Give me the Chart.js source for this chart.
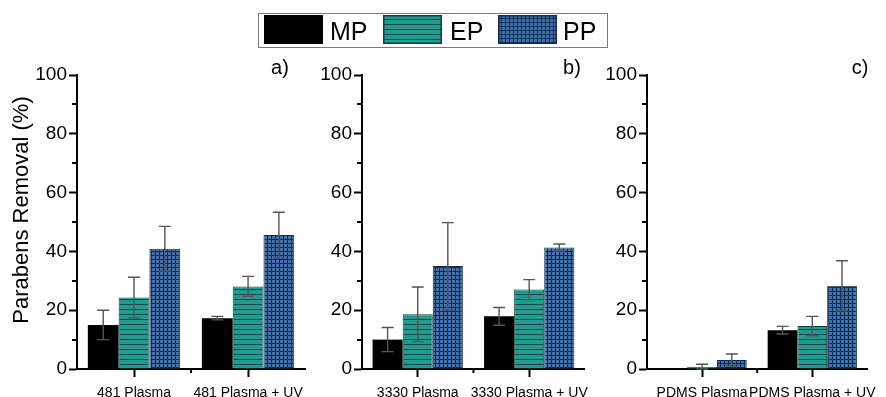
<!DOCTYPE html>
<html>
<head>
<meta charset="utf-8">
<script src="https://cdn.jsdelivr.net/npm/chart.js@4/dist/chart.umd.min.js"></script>
<style>
  html, body { margin: 0; padding: 0; background: #ffffff; }
  #wrap { position: relative; width: 886px; height: 397px; overflow: hidden; font-family: "Liberation Sans", Arial, sans-serif; }
  canvas.panel { position: absolute; top: 0; }
  #legend { position: absolute; left: 258px; top: 13px; width: 350px; height: 35px; border: 1.5px solid #7a7a7a; box-sizing: border-box; }
  #legend canvas { position: absolute; top: 1px; }
  #legend span { position: absolute; top: 2px; font-size: 25px; line-height: 30px; color: #000; }
</style>
</head>
<body>
<div id="wrap">
  <canvas class="panel" id="ca" width="312" height="397" style="left:0px;width:312px;height:397px"></canvas>
  <canvas class="panel" id="cb" width="285" height="397" style="left:312px;width:285px;height:397px"></canvas>
  <canvas class="panel" id="cc" width="289" height="397" style="left:597px;width:289px;height:397px"></canvas>
  <div id="legend">
    <canvas id="lg0" width="59" height="29" style="left:5px"></canvas><span style="left:71px">MP</span>
    <canvas id="lg1" width="59" height="29" style="left:124px"></canvas><span style="left:191px">EP</span>
    <canvas id="lg2" width="59" height="29" style="left:239px"></canvas><span style="left:304px">PP</span>
  </div>
</div>
<script>
// ---------------- DATA ----------------
const seriesNames = ['MP', 'EP', 'PP'];
const panelLabels = ['a)', 'b)', 'c)'];
const yTicks = [0, 20, 40, 60, 80, 100];

const categoriesA = ['481 Plasma', '481 Plasma + UV'];
const mpA = [15.0, 17.3];
const epA = [24.3, 28.1];
const ppA = [40.9, 45.6];
const mpErrA = [5.0, 0.6];
const epErrA = [6.9, 3.4];
const ppErrA = [7.6, 7.7];

const categoriesB = ['3330 Plasma', '3330 Plasma + UV'];
const mpB = [10.0, 17.9];
const epB = [18.6, 27.0];
const ppB = [35.0, 41.3];
const mpErrB = [4.1, 3.0];
const epErrB = [9.3, 3.4];
const ppErrB = [14.8, 1.2];

const categoriesC = ['PDMS Plasma', 'PDMS Plasma + UV'];
const mpC = [0.0, 13.2];
const epC = [0.7, 14.6];
const ppC = [3.1, 28.3];
const mpErrC = [0.0, 1.3];
const epErrC = [0.9, 3.3];
const ppErrC = [2.0, 8.5];

// ---------------- STYLES ----------------
const FONT = '"Liberation Sans", Arial, sans-serif';

function makePattern(kind) {
  const c = document.createElement('canvas');
  const g = c.getContext('2d');
  if (kind === 'EP') {
    c.width = 6; c.height = 5;
    g.fillStyle = '#1f9b8f'; g.fillRect(0, 0, 6, 5);
    g.fillStyle = '#1b4646'; g.fillRect(0, 4, 6, 1.3);
  } else if (kind === 'PP') {
    c.width = 4; c.height = 4;
    g.fillStyle = '#3a72b6'; g.fillRect(0, 0, 4, 4);
    g.fillStyle = '#1a2c4a'; g.fillRect(0, 3, 4, 1); g.fillRect(3, 0, 1, 4);
  } else {
    c.width = 4; c.height = 4;
    g.fillStyle = '#000000'; g.fillRect(0, 0, 4, 4);
  }
  return g.createPattern(c, 'repeat');
}
const fills = { MP: makePattern('MP'), EP: makePattern('EP'), PP: makePattern('PP') };
const borders = { MP: '#000000', EP: '#1b3a3a', PP: '#1a2a45' };

// legend swatches
seriesNames.forEach((n, i) => {
  const cv = document.getElementById('lg' + i);
  const g = cv.getContext('2d');
  g.fillStyle = fills[n];
  g.fillRect(0, 0, cv.width, cv.height);
  g.strokeStyle = borders[n];
  g.lineWidth = 1.5;
  g.strokeRect(0.75, 0.75, cv.width - 1.5, cv.height - 1.5);
});

function buildPanel(canvasId, cats, vals, errs, label, opts) {
  const datasets = seriesNames.map((n, i) => ({
    label: n,
    data: vals[i],
    backgroundColor: fills[n],
    borderColor: borders[n],
    borderWidth: n === 'MP' ? 0 : 1,
    categoryPercentage: 0.81,
    barPercentage: 1.0
  }));

  const extras = {
    id: 'extras_' + canvasId,
    afterDatasetsDraw(chart) {
      const ctx = chart.ctx;
      const ys = chart.scales.y;
      ctx.save();
      ctx.strokeStyle = '#555555';
      ctx.lineWidth = 1.4;
      chart.data.datasets.forEach((ds, i) => {
        const meta = chart.getDatasetMeta(i);
        meta.data.forEach((bar, j) => {
          const v = ds.data[j], e = errs[i][j];
          if (!e) return;
          const yT = ys.getPixelForValue(v + e);
          const yB = ys.getPixelForValue(Math.max(0, v - e));
          const x = bar.x, hw = 6;
          ctx.beginPath();
          ctx.moveTo(x, yT); ctx.lineTo(x, yB);
          ctx.moveTo(x - hw, yT); ctx.lineTo(x + hw, yT);
          ctx.moveTo(x - hw, yB); ctx.lineTo(x + hw, yB);
          ctx.stroke();
        });
      });
      ctx.restore();
    },
    afterDraw(chart) {
      const ctx = chart.ctx;
      const ys = chart.scales.y, xs = chart.scales.x;
      const area = chart.chartArea;
      ctx.save();
      ctx.strokeStyle = '#000';
      ctx.lineWidth = 2;
      // minor y ticks
      [10, 30, 50, 70, 90].forEach(v => {
        const y = Math.round(ys.getPixelForValue(v));
        ctx.beginPath();
        ctx.moveTo(area.left - 5, y); ctx.lineTo(area.left, y);
        ctx.stroke();
      });
      // minor x tick between categories
      const xm = (xs.getPixelForValue(0) + xs.getPixelForValue(1)) / 2;
      ctx.beginPath();
      ctx.moveTo(xm, area.bottom); ctx.lineTo(xm, area.bottom + 4);
      ctx.stroke();
      // panel label
      ctx.fillStyle = '#000';
      ctx.font = '20px ' + FONT;
      ctx.textAlign = 'center';
      ctx.textBaseline = 'middle';
      ctx.fillText(label, opts.labelX, 68);
      // y title
      if (opts.title) {
        ctx.translate(22, 210);
        ctx.rotate(-Math.PI / 2);
        ctx.font = '22px ' + FONT;
        ctx.fillText(opts.title, 0, 0);
      }
      ctx.restore();
    }
  };

  return new Chart(document.getElementById(canvasId), {
    type: 'bar',
    data: { labels: cats, datasets },
    options: {
      responsive: false,
      animation: false,
      devicePixelRatio: 1,
      layout: { padding: { top: 75, right: opts.padRight, bottom: 0, left: 0 } },
      plugins: { legend: { display: false }, tooltip: { enabled: false }, title: { display: false } },
      scales: {
        x: {
          type: 'category',
          offset: true,
          afterFit(s) { s.height = 28; },
          grid: { offset: false, drawOnChartArea: false, drawTicks: true, tickLength: 8, tickWidth: 2, tickColor: '#000' },
          border: { display: true, width: 2, color: '#000' },
          ticks: { color: '#000', font: { family: FONT, size: 14 }, padding: 8, maxRotation: 0, autoSkip: false }
        },
        y: {
          min: 0, max: 100,
          afterFit(s) { s.width = opts.axisWidth; },
          afterBuildTicks(s) { s.ticks = yTicks.map(v => ({ value: v })); },
          grid: { drawOnChartArea: false, drawTicks: true, tickLength: 8, tickWidth: 2, tickColor: '#000' },
          border: { display: true, width: 2, color: '#000' },
          ticks: { color: '#000', font: { family: FONT, size: 19 }, padding: 2 }
        }
      }
    },
    plugins: [extras]
  });
}

buildPanel('ca', categoriesA, [mpA, epA, ppA], [mpErrA, epErrA, ppErrA], panelLabels[0],
  { axisWidth: 77, padRight: 5, labelX: 280, title: 'Parabens Removal (%)' });
buildPanel('cb', categoriesB, [mpB, epB, ppB], [mpErrB, epErrB, ppErrB], panelLabels[1],
  { axisWidth: 50, padRight: 5, labelX: 260 });
buildPanel('cc', categoriesC, [mpC, epC, ppC], [mpErrC, epErrC, ppErrC], panelLabels[2],
  { axisWidth: 50, padRight: 10, labelX: 263 });
</script>
</body>
</html>
